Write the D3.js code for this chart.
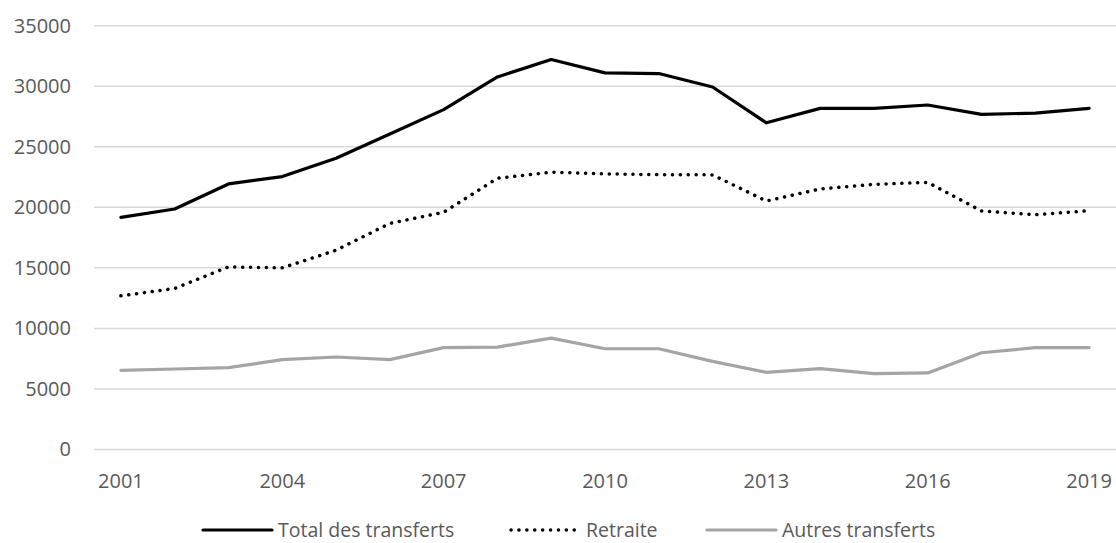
<!DOCTYPE html>
<html>
<head>
<meta charset="utf-8">
<script src="https://cdn.jsdelivr.net/npm/d3@7"></script>
<style>
  body { margin: 0; background: #fff; }
  text { font-family: "Open Sans", Lato, sans-serif; }
</style>
</head>
<body>
<div id="chart"></div>
<script>
const years = [2001, 2002, 2003, 2004, 2005, 2006, 2007, 2008, 2009, 2010,
  2011, 2012, 2013, 2014, 2015, 2016, 2017, 2018, 2019]
const total = [19170, 19860, 21930, 22540, 24060, 26050, 28070, 30770, 32210, 31100,
  31050, 29940, 26980, 28170, 28170, 28450, 27680, 27780, 28170]
const retraite = [12690, 13300, 15080, 15000, 16460, 18670, 19590, 22400, 22900, 22760,
  22700, 22680, 20520, 21520, 21900, 22060, 19700, 19390, 19720]
const autres = [6540, 6650, 6760, 7420, 7640, 7420, 8410, 8460, 9200, 8320,
  8320, 7280, 6370, 6680, 6260, 6320, 7990, 8410, 8410]
const yTicks = [0, 5000, 10000, 15000, 20000, 25000, 30000, 35000]
const xTicks = [2001, 2004, 2007, 2010, 2013, 2016, 2019]
const seriesNames = ['Total des transferts', 'Retraite', 'Autres transferts']

const W = 1116, H = 543
const margin = { top: 25.7, right: 0, bottom: 93.5, left: 94 }
const width = W - margin.left - margin.right
const height = H - margin.top - margin.bottom

const svg = d3.select('#chart')
  .append('svg')
  .attr('width', W)
  .attr('height', H)

const g = svg.append('g')
  .attr('transform', `translate(${margin.left}, ${margin.top})`)

/* scales */
const x = d3.scaleBand()
  .domain(years)
  .range([0, width])
  .padding(0)

const y = d3.scaleLinear()
  .domain([0, 35000])
  .range([height, 0])

const cx = d => x(d) + x.bandwidth() / 2

// gridlines
g.selectAll('line.grid')
  .data(yTicks)
  .enter()
  .append('line')
  .attr('class', 'grid')
  .attr('x1', 0)
  .attr('x2', width)
  .attr('y1', d => y(d))
  .attr('y2', d => y(d))
  .style('stroke', '#d9d9d9')
  .style('stroke-width', 1.5)

/* Y axis */
const yAxis = d3.axisLeft(y)
  .tickValues(yTicks)
  .tickSize(0)
  .tickPadding(23)
  .tickFormat(d3.format('d'))

g.append('g')
  .call(yAxis)
  .call(a => a.select('.domain').remove())
  .selectAll('text')
  .style('font-size', '20px')
  .style('fill', '#595959')

/* X axis */
const xAxis = d3.axisBottom(x)
  .tickValues(xTicks)
  .tickSize(0)
  .tickPadding(24)

g.append('g')
  .attr('transform', `translate(0, ${height})`)
  .call(xAxis)
  .call(a => a.select('.domain').remove())
  .selectAll('text')
  .style('font-size', '20px')
  .style('fill', '#595959')

/* lines */
const line = d3.line()
  .x((d, i) => cx(years[i]))
  .y(d => y(d))

const styles = [
  { color: '#000000', width: 3.2, dash: null, cap: 'round' },
  { color: '#000000', width: 3.5, dash: '0.1,7.8', cap: 'round' },
  { color: '#a5a5a5', width: 3.2, dash: null, cap: 'round' }
]

const seriesData = [total, retraite, autres]

seriesData.forEach((s, i) => {
  g.append('path')
    .datum(s)
    .attr('d', line)
    .style('fill', 'none')
    .style('stroke', styles[i].color)
    .style('stroke-width', styles[i].width)
    .style('stroke-linejoin', 'round')
    .style('stroke-linecap', styles[i].cap)
    .style('stroke-dasharray', styles[i].dash)
})

/* legend */
const legendItems = [
  { x1: 203, x2: 272, tx: 278 },
  { x1: 511, x2: 580, tx: 586 },
  { x1: 707, x2: 776, tx: 782 }
]
const ly = 530

const legend = svg.append('g')

legendItems.forEach((it, i) => {
  legend.append('line')
    .attr('x1', it.x1)
    .attr('x2', it.x2)
    .attr('y1', ly)
    .attr('y2', ly)
    .style('stroke', styles[i].color)
    .style('stroke-width', styles[i].width)
    .style('stroke-linecap', styles[i].cap)
    .style('stroke-dasharray', styles[i].dash)

  legend.append('text')
    .attr('x', it.tx)
    .attr('y', ly)
    .attr('dy', '0.35em')
    .style('font-size', '19.5px')
    .style('fill', '#595959')
    .text(seriesNames[i])
})
</script>
</body>
</html>
